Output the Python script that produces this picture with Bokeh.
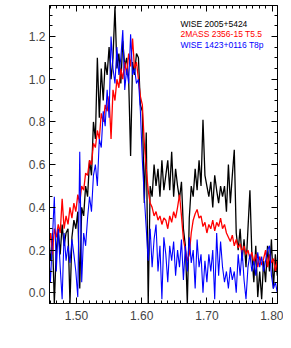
from bokeh.plotting import figure
from bokeh.models import (Range1d, LinearAxis, SingleIntervalTicker, PrintfTickFormatter,
                          CustomJSTickFormatter, Label)
from bokeh.embed import file_html
from bokeh.resources import INLINE

wave = [1.457, 1.460, 1.463, 1.466, 1.469, 1.472, 1.475, 1.478, 1.481, 1.484,
        1.487, 1.490, 1.493, 1.496, 1.499, 1.502, 1.505, 1.508, 1.511, 1.514,
        1.517, 1.520, 1.523, 1.526, 1.529, 1.532, 1.535, 1.538, 1.541, 1.544,
        1.547, 1.550, 1.553, 1.556, 1.559, 1.562, 1.565, 1.568, 1.571, 1.574,
        1.577, 1.580, 1.583, 1.586, 1.589, 1.592, 1.595, 1.598, 1.601, 1.604,
        1.607, 1.610, 1.613, 1.616, 1.619, 1.622, 1.625, 1.628, 1.631, 1.634,
        1.637, 1.640, 1.643, 1.646, 1.649, 1.652, 1.655, 1.658, 1.661, 1.664,
        1.667, 1.670, 1.673, 1.676, 1.679, 1.682, 1.685, 1.688, 1.691, 1.694,
        1.697, 1.700, 1.703, 1.706, 1.709, 1.712, 1.715, 1.718, 1.721, 1.724,
        1.727, 1.730, 1.733, 1.736, 1.739, 1.742, 1.745, 1.748, 1.751, 1.754,
        1.757, 1.760, 1.763, 1.766, 1.769, 1.772, 1.775, 1.778, 1.781, 1.784,
        1.787, 1.790, 1.793, 1.796, 1.799, 1.802, 1.805, 1.808]

wise2005 = [0.22, 0.15, 0.28, -0.05, 0.20, 0.30, 0.18, 0.32, 0.22, 0.28,
            0.30, -0.05, 0.26, 0.34, 0.30, 0.38, 0.02, 0.40, 0.36, 0.50,
            0.45, 0.62, 0.55, 0.80, 0.72, 1.10, 0.82, 1.05, 0.90, 1.08,
            1.02, 1.15, 1.00, 1.10, 1.34, 1.05, 1.12, 0.98, 1.18, 1.06,
            1.10, 1.00, 0.64, 1.08, 1.02, 1.12, 1.10, 0.88, 0.85, 0.42,
            0.75, -0.05, 0.50, 0.45, 0.60, 0.50, 0.58, 0.45, 0.62, 0.48,
            0.55, 0.62, 0.48, 0.66, 0.45, 0.58, 0.50, 0.44, 0.52, 0.30,
            0.22, -0.05, 0.35, 0.50, 0.45, 0.58, 0.48, 0.62, 0.50, 0.81,
            0.55, 0.50, 0.45, 0.52, 0.40, 0.55, 0.48, 0.42, 0.50, 0.45,
            0.50, 0.38, 0.60, 0.42, 0.55, 0.67, 0.28, 0.20, 0.30, 0.15,
            0.25, 0.12, 0.30, 0.48, 0.18, 0.05, 0.22, -0.02, 0.10, -0.03,
            0.15, 0.05, 0.22, 0.10, 0.25, 0.02, 0.18, 0.08]

mass2356 = [0.22, 0.28, 0.18, 0.30, 0.26, 0.32, 0.28, 0.44, 0.30, 0.36,
            0.32, 0.40, 0.35, 0.42, 0.38, 0.46, 0.42, 0.50, 0.48, 0.56,
            0.55, 0.62, 0.60, 0.70, 0.68, 0.76, 0.72, 0.84, 0.80, 0.88,
            0.85, 0.92, 0.72, 0.95, 0.90, 1.00, 0.96, 1.05, 1.00, 1.08,
            1.02, 1.12, 1.06, 1.19, 1.05, 1.08, 1.00, 0.92, 0.88, 0.70,
            0.58, 0.48, 0.42, 0.40, 0.36, 0.38, 0.34, 0.36, 0.32, 0.35,
            0.34, 0.30, 0.36, 0.33, 0.38, 0.35, 0.40, 0.46, 0.36, 0.25,
            0.20, 0.15, 0.18, 0.28, 0.34, 0.37, 0.39, 0.35, 0.36, 0.31,
            0.33, 0.28, 0.32, 0.30, 0.34, 0.29, 0.33, 0.31, 0.35, 0.30,
            0.32, 0.28, 0.26, 0.24, 0.27, 0.22, 0.25, 0.21, 0.23, 0.19,
            0.22, 0.18, 0.20, 0.16, 0.19, 0.14, 0.18, 0.12, 0.17, 0.13,
            0.16, 0.20, 0.12, 0.18, 0.14, 0.16, 0.10, 0.15]

wise1423 = [0.20, 0.05, 0.25, 0.45, 0.10, 0.30, 0.12, -0.03, 0.28, 0.15,
            0.22, 0.14, 0.25, 0.18, 0.10, -0.02, 0.66, 0.05, 0.28, 0.22,
            0.35, 0.45, 0.38, 0.55, 0.60, 0.50, 0.72, 0.68, 0.85, 0.78,
            0.95, 0.82, 1.20, 1.05, 0.98, 1.15, 1.02, 1.10, 1.23, 0.95,
            1.05, 0.98, 1.21, 1.02, 1.05, 0.98, 1.00, 0.85, 0.62, 0.45,
            0.30, 0.15, 0.30, 0.12, 0.25, 0.32, 0.10, 0.22, -0.03, 0.26,
            0.18, 0.05, 0.22, 0.15, 0.24, 0.08, 0.20, 0.12, 0.25, 0.06,
            0.22, 0.10, 0.26, 0.14, 0.20, 0.02, 0.25, 0.12, 0.18, 0.00,
            0.15, 0.05, 0.18, 0.10, 0.20, -0.03, 0.28, 0.08, 0.24, 0.12,
            0.05, 0.10, 0.02, 0.12, 0.06, 0.10, 0.00, 0.18, 0.08, 0.20,
            0.06, -0.03, 0.12, 0.18, 0.10, 0.15, 0.08, 0.19, 0.12, 0.17,
            0.10, 0.15, 0.20, 0.22, 0.08, 0.02, 0.05, 0.00]

names = ["WISE 2005+5424", "2MASS 2356-15 T5.5", "WISE 1423+0116 T8p"]
colors = ["black", "red", "blue"]

FONT = "Liberation Sans"

p = figure(width=283, height=340, output_backend="svg", toolbar_location=None,
           x_range=Range1d(1.4586, 1.8083), y_range=Range1d(-0.05, 1.345),
           min_border_left=49, min_border_right=6, min_border_top=5, min_border_bottom=37,
           x_axis_location=None, y_axis_location=None)
p.grid.visible = False
p.outline_line_color = "black"
p.outline_line_width = 1
p.background_fill_color = "white"
p.border_fill_color = "white"

p.line(wave, wise2005, color=colors[0], line_width=1.3)
p.line(wave, mass2356, color=colors[1], line_width=1.3)
p.line(wave, wise1423, color=colors[2], line_width=1.1)

def style(ax, show_labels, major_in=6, minor_in=3):
    ax.major_tick_in = major_in
    ax.major_tick_out = 0
    ax.minor_tick_in = minor_in
    ax.minor_tick_out = 0
    ax.axis_line_color = "black"
    ax.major_tick_line_color = "black"
    ax.minor_tick_line_color = "black"
    ax.major_label_text_font = FONT
    ax.major_label_text_color = "#444444"
    ax.major_label_text_font_size = "12px"
    if not show_labels:
        ax.formatter = CustomJSTickFormatter(code="return '';")
        ax.major_label_standoff = 0

for loc in ["below", "above"]:
    ax = LinearAxis(ticker=SingleIntervalTicker(interval=0.1, num_minor_ticks=10),
                    formatter=PrintfTickFormatter(format="%.2f"))
    style(ax, loc == "below")
    if loc == "below":
        ax.major_label_standoff = 7
    p.add_layout(ax, loc)

for loc in ["left", "right"]:
    ax = LinearAxis(ticker=SingleIntervalTicker(interval=0.2, num_minor_ticks=4),
                    formatter=PrintfTickFormatter(format="%.1f"))
    style(ax, loc == "left")
    if loc == "left":
        ax.major_label_standoff = 4
    p.add_layout(ax, loc)

label_y = [1.2575, 1.2107, 1.161]
for name, c, yy in zip(names, colors, label_y):
    p.add_layout(Label(x=1.6595, y=yy, text=name, text_color=c, text_font=FONT,
                       text_font_size="8.5px", text_baseline="middle"))

open("out.html", "w").write(file_html(p, INLINE))
